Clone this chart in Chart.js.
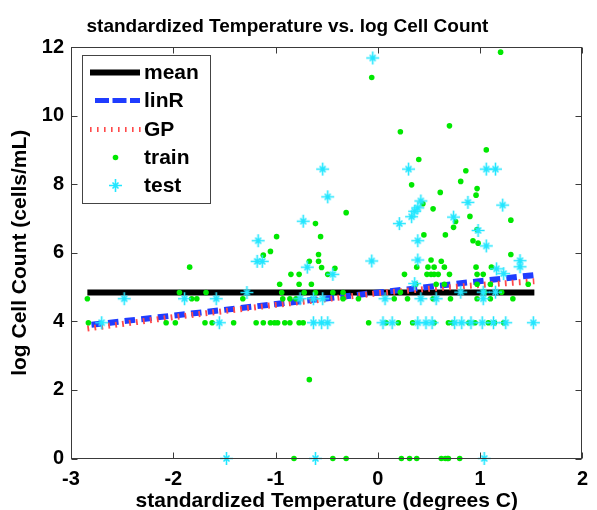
<!DOCTYPE html>
<html><head><meta charset="utf-8">
<script src="https://cdn.jsdelivr.net/npm/chart.js@4.4.0/dist/chart.umd.min.js"></script>
<style>html,body{margin:0;padding:0;background:#fff}canvas{display:block}</style>
</head><body>
<canvas id="c" width="597" height="510"></canvas>
<script>
// ---- data ----
const trainX=[-2.84,-2.83,-1.84,-1.94,-1.82,-1.77,-2.07,-1.98,-1.68,-1.69,-1.62,-1.41,-1.32,-1.19,-1.12,-1.05,-1.01,-0.98,-0.91,-0.86,
-0.99,-1.05,-1.12,-0.96,-0.94,-0.93,-0.86,-0.80,-0.85,-0.77,-0.77,-0.65,-0.67,-0.61,-0.58,-0.77,-0.73,-0.72,-0.61,-0.58,
-0.56,-0.55,-0.42,-0.49,-0.31,-0.34,-0.44,-0.34,-0.19,0.16,0.29,0.54,0.71,0.97,1.10,1.32,1.21,1.04,0.22,-0.09,
0.08,0.20,0.34,0.55,0.69,0.73,0.89,0.95,1.08,1.14,1.23,1.20,-0.06,0.22,0.70,1.06,0.40,0.86,0.33,0.81,
0.97,0.96,0.61,0.44,0.54,0.76,0.90,0.74,0.45,0.66,0.93,0.98,1.30,0.97,0.26,0.38,0.52,0.62,0.49,0.55,
0.65,0.48,0.52,0.55,0.59,0.70,0.96,0.97,1.03,1.11,1.30,0.97,1.10,1.47,0.57,0.65,0.37,-0.67,
-0.82,-0.44,-0.31,0.23,0.31,0.38,0.62,0.66,0.68,0.69,0.80];
const trainY=[4.66,3.96,5.58,4.84,4.66,4.66,3.96,3.96,4.84,3.96,3.96,3.96,4.66,3.96,3.96,3.96,3.96,3.96,3.96,3.96,
6.47,6.04,5.93,5.08,4.84,4.66,4.66,4.66,5.37,5.37,5.08,5.08,5.75,6.85,5.95,3.96,3.96,4.84,4.84,5.75,
6.47,5.57,5.55,5.37,7.17,4.84,4.84,4.66,4.66,4.66,4.66,4.66,4.66,4.66,4.66,4.66,4.85,4.85,4.85,3.96,
3.96,3.96,3.96,3.96,3.96,3.96,3.96,3.96,3.96,3.96,3.96,11.85,11.11,9.53,9.70,9.00,8.72,8.39,7.98,8.08,
7.87,7.68,7.76,7.43,7.28,6.91,7.06,6.74,6.52,6.52,6.35,6.28,6.95,6.68,5.37,5.58,5.79,5.75,5.58,5.58,
5.58,5.37,5.37,5.37,5.37,5.37,5.58,5.37,5.37,5.58,5.95,5.08,5.08,5.08,5.08,5.08,5.08,2.30,
0,0,0,0,0,0,0,0,0,0,0];
const testX=[-2.70,-2.48,-1.89,-1.58,-1.55,-1.28,-1.17,-1.18,-1.13,-0.73,-0.69,-0.76,-0.63,-0.63,-0.05,-0.54,0.30,1.06,1.15,-0.49,
0.88,1.22,0.21,0.33,0.36,0.39,0.42,0.74,0.98,1.06,0.39,-0.06,0.39,-0.44,1.16,1.23,1.39,1.39,0.36,-0.54,
0.07,0.42,0.57,0.81,1.03,1.03,1.15,-0.55,-0.49,0.05,0.14,0.39,0.47,0.53,0.75,0.82,0.91,1.02,1.13,1.25,
1.52,-1.48,-0.61,1.04];
const testY=[3.96,4.66,4.66,4.66,3.96,4.84,6.35,5.75,5.75,6.92,5.58,4.66,3.96,4.66,11.68,8.44,8.44,8.44,8.44,7.63,
7.47,7.39,6.85,7.05,7.21,7.31,7.51,7.04,6.65,6.20,6.35,5.76,5.79,5.37,5.53,5.39,5.77,5.59,5.10,4.66,
4.66,4.66,4.66,4.85,4.85,4.66,4.85,3.96,3.96,3.96,3.96,3.96,3.96,3.96,3.96,3.96,3.96,3.96,3.96,3.96,
3.96,0,0,0];
const meanX=[-2.84,1.53];
const meanY=[4.84,4.84];
const linRX=[-2.80,1.53];
const linRY=[3.90,5.35];
const gpX=[-2.84,-2.0,-1.0,0.0,0.5,1.0,1.53];
const gpY=[3.79,4.12,4.48,4.82,4.95,5.06,5.17];
const xTickVals=[-3,-2,-1,0,1,2];
const yTickVals=[0,2,4,6,8,10,12];
const titleText='standardized Temperature vs. log Cell Count';
const xLabel='standardized Temperature (degrees C)';
const yLabel='log Cell Count (cells/mL)';
const legendLabels=['mean','linR','GP','train','test'];

// ---- styles ----
const FONT='"Liberation Sans", Arial, Helvetica, sans-serif';
Chart.defaults.font.family=FONT;
Chart.defaults.color='#000';
const C_MEAN='#000000', C_LIN='#1f3cff', C_GP='#ff4a4a', C_TRAIN='#00e800', C_TEST='#22e6ff';
const toPts=(xs,ys)=>xs.map((x,i)=>({x:x,y:ys[i]}));

// asterisk marker image (long + arms, short diagonal arms)
function makeStar(){
  const c=document.createElement('canvas'); c.width=15; c.height=15;
  const g=c.getContext('2d'); g.strokeStyle=C_TEST; g.lineWidth=1.6; g.lineCap='butt';
  g.beginPath(); g.moveTo(1,7.5); g.lineTo(14,7.5); g.moveTo(7.5,1); g.lineTo(7.5,14);
  g.moveTo(4.5,4.5); g.lineTo(10.5,10.5); g.moveTo(10.5,4.5); g.lineTo(4.5,10.5); g.stroke();
  return c;
}
const starImg=makeStar();

const deco={
  id:'deco',
  afterDraw(chart){
    const ctx=chart.ctx, a=chart.chartArea, xs=chart.scales.x, ys=chart.scales.y;
    ctx.save();
    ctx.strokeStyle='#3a3a3a'; ctx.lineWidth=1;
    const L=Math.round(a.left)+0.5, R=Math.round(a.right)-0.5, T=Math.round(a.top)+0.5, B=Math.round(a.bottom)-0.5;
    ctx.strokeRect(L,T,R-L,B-T);
    ctx.beginPath();
    xTickVals.forEach(v=>{const p=Math.round(xs.getPixelForValue(v))+0.5;ctx.moveTo(p,B);ctx.lineTo(p,B-6);ctx.moveTo(p,T);ctx.lineTo(p,T+6);});
    yTickVals.forEach(v=>{const p=Math.round(ys.getPixelForValue(v))+0.5;ctx.moveTo(L,p);ctx.lineTo(L+6,p);ctx.moveTo(R,p);ctx.lineTo(R-6,p);});
    ctx.stroke();
    ctx.fillStyle='#000'; ctx.font='bold 19px '+FONT; ctx.textAlign='center'; ctx.textBaseline='alphabetic';
    ctx.fillText(titleText,287.5,32);
    // legend
    const bx=82.5, by=55.5, bw=128, bh=148;
    ctx.fillStyle='#fff'; ctx.fillRect(bx,by,bw,bh);
    ctx.strokeStyle='#444'; ctx.lineWidth=1; ctx.strokeRect(bx,by,bw,bh);
    const rows=[72.5,100.5,129.5,157.5,185.5];
    ctx.lineCap='butt';
    ctx.strokeStyle=C_MEAN; ctx.lineWidth=6; ctx.setLineDash([]);
    ctx.beginPath(); ctx.moveTo(90,rows[0]); ctx.lineTo(140,rows[0]); ctx.stroke();
    ctx.strokeStyle=C_LIN; ctx.lineWidth=5; ctx.setLineDash([14,3.5]);
    ctx.beginPath(); ctx.moveTo(95,rows[1]); ctx.lineTo(140,rows[1]); ctx.stroke();
    ctx.strokeStyle=C_GP; ctx.lineWidth=5; ctx.setLineDash([1.6,5.4]);
    ctx.beginPath(); ctx.moveTo(90,rows[2]); ctx.lineTo(141,rows[2]); ctx.stroke();
    ctx.setLineDash([]);
    ctx.fillStyle=C_TRAIN; ctx.beginPath(); ctx.arc(115.5,rows[3],2.8,0,Math.PI*2); ctx.fill();
    ctx.drawImage(starImg,115.5-7.5,rows[4]-7.5);
    ctx.fillStyle='#000'; ctx.font='bold 21px '+FONT; ctx.textAlign='left'; ctx.textBaseline='middle';
    legendLabels.forEach((t,i)=>ctx.fillText(t,144,rows[i]+1));
    ctx.restore();
  }
};

new Chart(document.getElementById('c'),{
  type:'scatter',
  data:{datasets:[
    {label:'mean',data:toPts(meanX,meanY),showLine:true,borderColor:C_MEAN,borderWidth:6,pointRadius:0,borderCapStyle:'butt',order:5},
    {label:'linR',data:toPts(linRX,linRY),showLine:true,borderColor:C_LIN,borderWidth:6,borderDash:[10.5,6.2],pointRadius:0,borderCapStyle:'butt',order:4},
    {label:'GP',data:toPts(gpX,gpY),showLine:true,borderColor:C_GP,borderWidth:6,borderDash:[1.8,5.2],pointRadius:0,borderCapStyle:'butt',order:3},
    {label:'train',data:toPts(trainX,trainY),pointStyle:'circle',pointRadius:2.8,pointBorderWidth:0,backgroundColor:C_TRAIN,borderColor:C_TRAIN,clip:false,order:2},
    {label:'test',data:toPts(testX,testY),pointStyle:starImg,pointRadius:7,clip:false,order:1}
  ]},
  options:{
    responsive:false,animation:false,
    layout:{padding:{top:47,right:7,left:0,bottom:0}},
    plugins:{legend:{display:false},title:{display:false},tooltip:{enabled:false}},
    scales:{
      x:{type:'linear',min:-3,max:2,
        afterFit(s){s.height=51.5;},
        afterBuildTicks(s){s.ticks=xTickVals.map(v=>({value:v}));},
        grid:{display:false,drawTicks:false},border:{display:false},
        ticks:{padding:9,color:'#000',font:{size:20,weight:'bold'}},
        title:{display:true,text:xLabel,color:'#000',font:{size:21,weight:'bold',lineHeight:1},padding:{top:0,bottom:-2}}},
      y:{type:'linear',min:0,max:12,
        afterFit(s){s.width=71;},
        afterBuildTicks(s){s.ticks=yTickVals.map(v=>({value:v}));},
        grid:{display:false,drawTicks:false},border:{display:false},
        ticks:{padding:7,color:'#000',font:{size:20,weight:'bold'}},
        title:{display:true,text:yLabel,color:'#000',font:{size:21,weight:'bold',lineHeight:1},padding:{top:10,bottom:0}}}
    }
  },
  plugins:[deco]
});
</script>
</body></html>
